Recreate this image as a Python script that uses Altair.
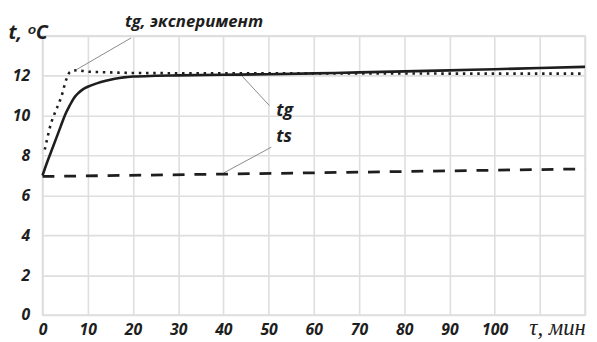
import altair as alt
import pandas as pd

# --- data ---
tg_x = [0, 1, 2, 3, 4, 5, 6, 7, 8, 9, 10, 12, 14, 16, 18, 20, 25, 30, 40, 50, 60, 70, 80, 90, 100, 110, 120]
tg_y = [7.0, 7.65, 8.25, 8.85, 9.45, 10.05, 10.5, 10.9, 11.15, 11.33, 11.45, 11.62, 11.75, 11.85, 11.92, 11.96,
        12.0, 12.02, 12.05, 12.08, 12.12, 12.17, 12.22, 12.27, 12.33, 12.39, 12.45]

exp_x = [0.5, 1, 1.5, 2, 2.5, 3, 3.5, 4, 4.5, 5, 5.5, 6, 7, 8, 9, 10, 12, 15, 20, 30, 60, 90, 120]
exp_y = [8.3, 8.8, 9.3, 9.7, 10.0, 10.3, 10.55, 10.85, 11.2, 11.65, 11.95, 12.18, 12.27, 12.28, 12.24, 12.21,
         12.19, 12.17, 12.14, 12.13, 12.12, 12.11, 12.11]

ts_x = [0, 40, 80, 120]
ts_y = [6.95, 7.07, 7.2, 7.33]

x_ticks = list(range(0, 121, 10))
y_ticks = list(range(0, 15, 2))

label_text = ["tg, эксперимент", "tg", "ts"]
label_x = [33.5, 51.7, 51.7]
label_y = [14.69, 9.99, 8.68]
label_align = ["center", "left", "left"]

leader_x = [19.6, 44.0, 50.6]
leader_y = [13.9, 12.02, 8.42]
leader_x2 = [7.6, 50.2, 40.1]
leader_y2 = [12.32, 10.5, 7.13]

FONT = "Open Sans, Roboto, sans-serif"
INK = "#1e1e1e"
GRID = "#dedede"

tg_df = pd.DataFrame({"x": tg_x, "y": tg_y})
exp_df = pd.DataFrame({"x": exp_x, "y": exp_y})
ts_df = pd.DataFrame({"x": ts_x, "y": ts_y})
lab_df = pd.DataFrame({"x": label_x, "y": label_y, "t": label_text, "a": label_align})
lead_df = pd.DataFrame({"x": leader_x, "y": leader_y, "x2": leader_x2, "y2": leader_y2})

X = alt.X("x:Q", scale=alt.Scale(domain=[0, 120], nice=False, zero=False),
          axis=alt.Axis(values=x_ticks, labelExpr="datum.value <= 100 ? datum.label : ''",
                        title="τ, мин", titleX=493, titleY=2, titleAlign="left",
                        titleBaseline="top", titleAngle=0))
Y = alt.Y("y:Q", scale=alt.Scale(domain=[0, 14], nice=False, zero=True),
          axis=alt.Axis(values=y_ticks, labelExpr="datum.value <= 12 ? datum.label : ''",
                        title="t, ᵒC", titleX=-35, titleY=3, titleAlign="left",
                        titleBaseline="alphabetic", titleAngle=0))

tg_line = alt.Chart(tg_df).mark_line(color=INK, strokeWidth=2.6, interpolate="monotone").encode(x=X, y=Y)
exp_line = alt.Chart(exp_df).mark_line(color=INK, strokeWidth=2.6, strokeDash=[2.5, 4.8],
                                       interpolate="monotone").encode(x=X, y=Y)
ts_line = alt.Chart(ts_df).mark_line(color=INK, strokeWidth=2.8, strokeDash=[12, 10]).encode(x=X, y=Y)

leaders = alt.Chart(lead_df).mark_rule(color="#8a8a8a", strokeWidth=1).encode(
    x=X, y=Y, x2="x2:Q", y2="y2:Q")

texts_c = alt.Chart(lab_df[lab_df.a == "center"]).mark_text(
    font=FONT, fontSize=17, fontStyle="italic", fontWeight="bold", color=INK,
    align="center", baseline="middle").encode(x=X, y=Y, text="t:N")
texts_l = alt.Chart(lab_df[lab_df.a == "left"]).mark_text(
    font=FONT, fontSize=18, fontStyle="italic", fontWeight="bold", color=INK,
    align="left", baseline="alphabetic").encode(x=X, y=Y, text="t:N")

chart = alt.layer(leaders, ts_line, tg_line, exp_line, texts_c, texts_l).properties(
    width=550, height=283,
    autosize=alt.AutoSizeParams(type="none"),
    padding={"left": 35, "top": 26, "right": 4, "bottom": 24},
    background="white",
).configure_view(
    stroke=GRID, strokeWidth=1.6
).configure_axis(
    grid=True, gridColor=GRID, gridWidth=1.6, domain=False, ticks=False,
    labelFont=FONT, labelFontSize=16, labelFontStyle="italic", labelFontWeight="bold",
    labelColor=INK, titleColor=INK,
).configure_axisX(
    labelPadding=7, labelFlush=False,
    titleFont="Liberation Serif, DejaVu Serif, serif", titleFontSize=23,
    titleFontStyle="italic", titleFontWeight="normal",
).configure_axisY(
    labelPadding=13,
    titleFont=FONT, titleFontSize=20, titleFontStyle="italic", titleFontWeight="bold",
)

chart.save("out.html", embed_options={"renderer": "svg", "actions": False})
